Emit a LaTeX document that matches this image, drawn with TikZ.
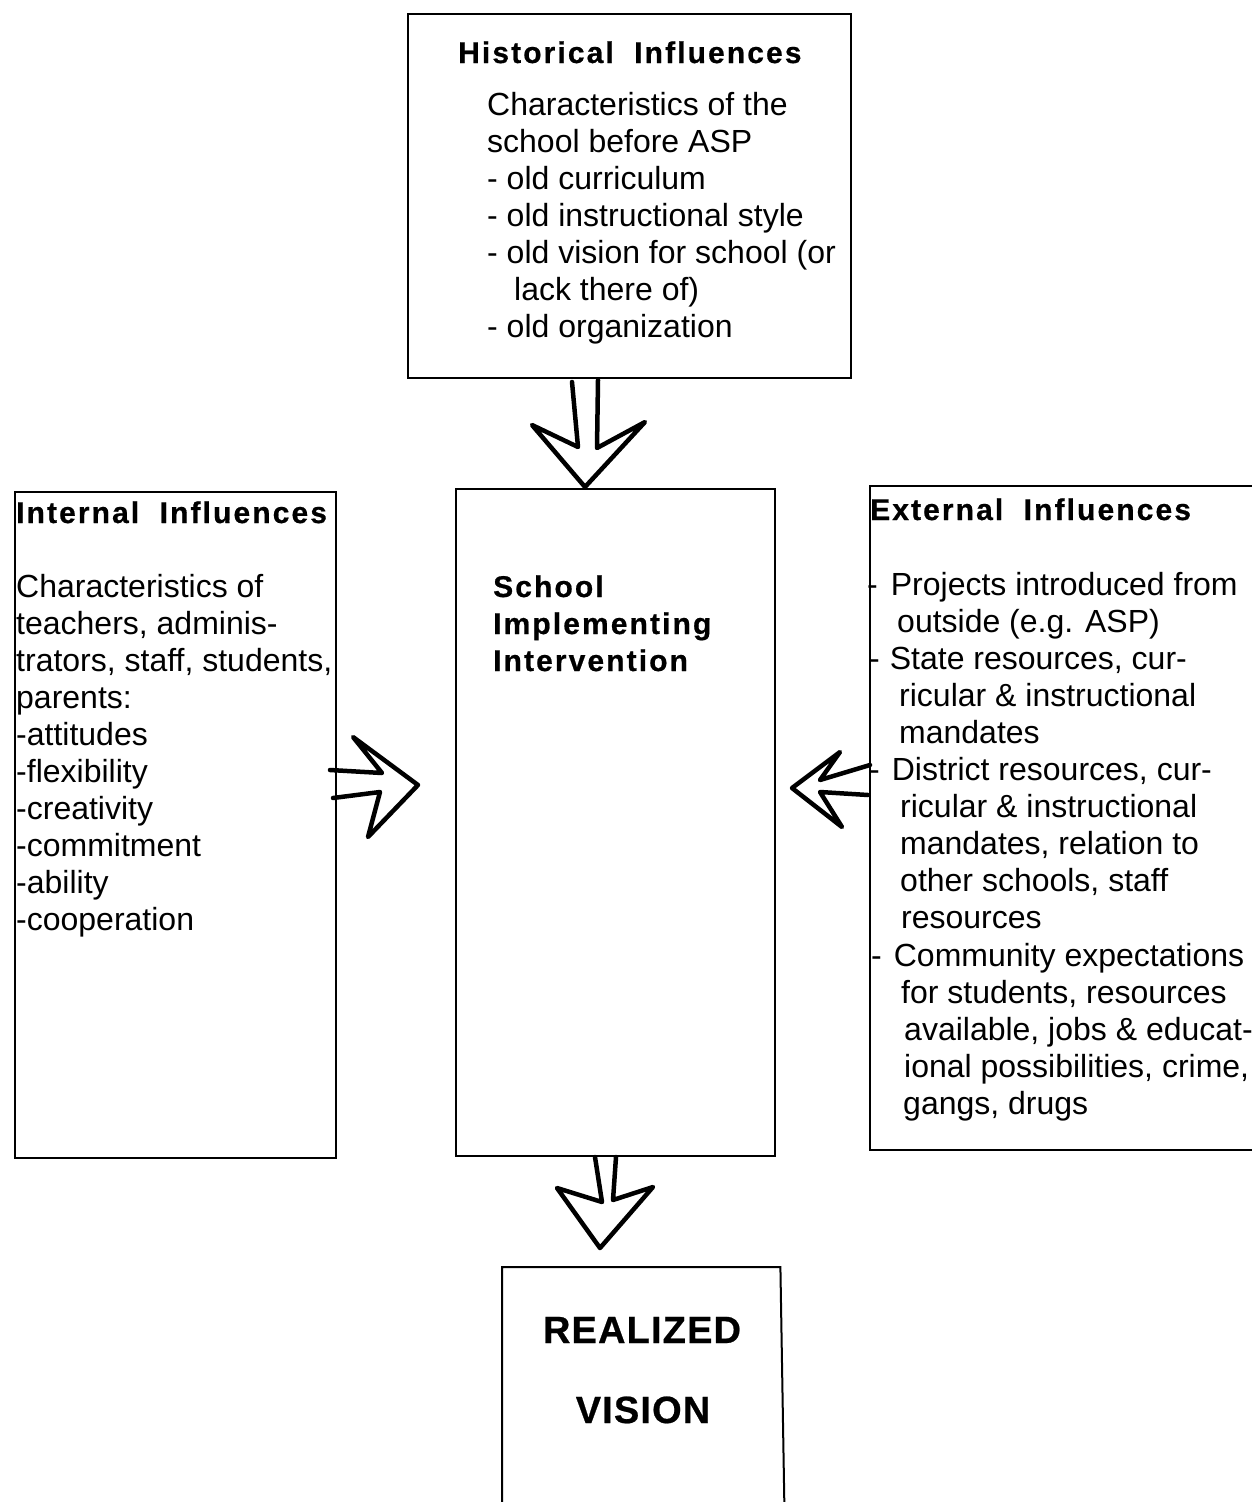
\documentclass[tikz,border=0pt]{standalone}
\usepackage{fontspec}
\setmainfont{Liberation Sans}
\newfontfamily\hdfont[LetterSpace=7,FakeBold=0.6]{Liberation Sans}
\newfontfamily\rvfont[LetterSpace=3,FakeBold=0.6]{Liberation Sans}
\newcommand\tline[4]{\node[txt] (#1) at (#2,#3) {#4};}
\newcommand\headline[4]{\node[hd] (#1) at (#2,#3) {#4};}
\begin{document}
\begin{tikzpicture}[x=1pt,y=-1pt,
  boxline/.style={draw,line width=2pt},
  blk/.style={draw,line width=4.5pt,line join=round,line cap=round},
  txt/.style={inner sep=0pt,anchor=base west,font=\fontsize{32}{37}\selectfont},
  hd/.style={inner sep=0pt,anchor=base west,font=\hdfont\bfseries\fontsize{30}{37}\selectfont},
  rv/.style={inner sep=0pt,anchor=base,font=\rvfont\bfseries\fontsize{38}{44}\selectfont}]
\useasboundingbox (0,0) rectangle (1252,1502);
\fill[white] (0,0) rectangle (1252,1502);

% boxes
\node[boxline,anchor=north west,minimum width=443pt,minimum height=364pt,inner sep=0pt] (hist) at (407,13) {};
\node[boxline,anchor=north west,minimum width=321pt,minimum height=666pt,inner sep=0pt] (intern) at (14,491) {};
\node[boxline,anchor=north west,minimum width=319pt,minimum height=667pt,inner sep=0pt] (center) at (455,488) {};
\node[anchor=north west,minimum width=390pt,minimum height=664pt,inner sep=0pt] (ext) at (870,486) {};
\draw[boxline] (ext.north east) -- (ext.north west) -- (ext.south west) -- (ext.south east);
\node[anchor=north west,minimum width=282pt,minimum height=240pt,inner sep=0pt] (real) at (502,1267) {};
\draw[boxline] (real.south west) -- (real.north west) -- ([xshift=-4pt]real.north east) -- (real.south east);

% block arrows
\draw[blk] (572,382) -- (578,447) -- (532,425) -- (585,487) -- (645,422) -- (597,448) -- (598,380);
\draw[blk] (330,770) -- (382,773) -- (353,737) -- (418,785) -- (368,837) -- (380,792) -- (333,798);
\draw[blk] (870,765) -- (820,780) -- (840,752) -- (792,788) -- (842,827) -- (820,792) -- (868,795);
\draw[blk] (595,1157) -- (602,1202) -- (557,1188) -- (600,1248) -- (653,1187) -- (613,1200) -- (616,1157);

% historical
\headline{h0}{458}{63}{Historical\hspace{10pt} Influences}
\tline{h1}{487}{115}{Characteristics of the}
\tline{h2}{487}{152}{school before ASP}
\tline{h3}{487}{189}{- old curriculum}
\tline{h4}{487}{226}{- old instructional style}
\tline{h5}{487}{263}{- old vision for school (or}
\tline{h6}{514}{300}{lack there of)}
\tline{h7}{487}{337}{- old organization}

% internal
\headline{i0}{16}{523}{Internal\hspace{10pt} Influences}
\tline{i1}{16}{597}{Characteristics of}
\tline{i2}{16}{634}{teachers, adminis-}
\tline{i3}{16}{671}{trators, staff, students,}
\tline{i4}{16}{708}{parents:}
\tline{i5}{16}{745}{-attitudes}
\tline{i6}{16}{782}{-flexibility}
\tline{i7}{16}{819}{-creativity}
\tline{i8}{16}{856}{-commitment}
\tline{i9}{16}{893}{-ability}
\tline{i10}{16}{930}{-cooperation}

% center
\headline{c1}{493}{597}{School}
\headline{c2}{493}{634}{Implementing}
\headline{c3}{493}{671}{Intervention}

% external
\headline{e0}{870}{520}{External\hspace{10pt} Influences}
\tline{e1}{867}{595}{-\kern13pt Projects introduced from}
\tline{e2}{897}{632}{outside (e.g. ASP)}
\tline{e3}{869}{669}{-\kern10pt State resources, cur-}
\tline{e4}{899}{706}{ricular \& instructional}
\tline{e5}{899}{743}{mandates}
\tline{e6}{869}{780}{-\kern12pt District resources, cur-}
\tline{e7}{900}{817}{ricular \& instructional}
\tline{e8}{900}{854}{mandates, relation to}
\tline{e9}{900}{891}{other schools, staff}
\tline{e10}{901}{928}{resources}
\tline{e11}{871}{966}{-\kern12pt Community expectations}
\tline{e12}{901}{1003}{for students, resources}
\tline{e13}{904}{1040}{available, jobs \& educat-}
\tline{e14}{904}{1077}{ional possibilities, crime,}
\tline{e15}{903}{1114}{gangs, drugs}

% realized vision
\node[rv] (r1) at (642,1343) {REALIZED};
\node[rv] (r2) at (643,1423) {VISION};
\end{tikzpicture}
\end{document}
